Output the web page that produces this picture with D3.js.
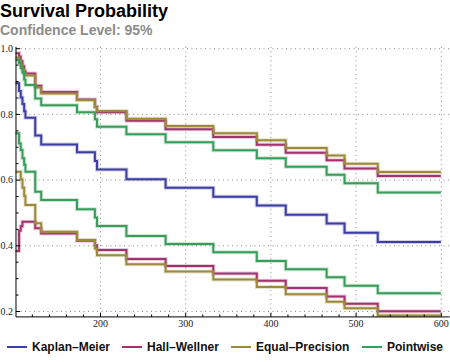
<!DOCTYPE html>
<html>
<head>
<meta charset="utf-8">
<script src="https://cdn.jsdelivr.net/npm/d3@7/dist/d3.min.js"></script>
<style>
body { margin: 0; background: #fff; }
.title { font-family: "Liberation Sans", Arial, sans-serif; font-weight: bold; }
.tick text { font-family: "Liberation Serif", "Times New Roman", serif; font-size: 10px; fill: #222; }
.legend text { font-family: "Liberation Sans", Arial, sans-serif; font-weight: bold; font-size: 12px; fill: #111; }
</style>
</head>
<body>
<svg id="chart" width="450" height="362"></svg>
<script>
// step start times (the last step runs until tEnd)
var times = [101, 105, 107, 109, 111, 112.5, 124, 131, 173, 194, 196.5, 231, 277, 333, 384, 418, 466, 487, 526];
var tEnd = 600;

var kaplanMeier = [0.893, 0.870, 0.850, 0.830, 0.808, 0.788, 0.734, 0.707, 0.683, 0.657, 0.631, 0.601, 0.575, 0.548, 0.521, 0.493, 0.466, 0.438, 0.410];
var hallWellnerUpper = [0.985, 0.975, 0.960, 0.945, 0.930, 0.923, 0.886, 0.867, 0.844, 0.822, 0.805, 0.779, 0.753, 0.730, 0.706, 0.682, 0.659, 0.634, 0.611];
var hallWellnerLower = [0.383, 0.444, 0.458, 0.472, 0.472, 0.472, 0.452, 0.436, 0.414, 0.400, 0.386, 0.358, 0.337, 0.314, 0.292, 0.270, 0.244, 0.222, 0.199];
var equalPrecisionUpper = [0.972, 0.962, 0.950, 0.935, 0.922, 0.917, 0.880, 0.862, 0.842, 0.820, 0.809, 0.785, 0.763, 0.741, 0.720, 0.696, 0.673, 0.648, 0.623];
var equalPrecisionLower = [0.624, 0.624, 0.600, 0.575, 0.550, 0.523, 0.467, 0.441, 0.416, 0.390, 0.370, 0.342, 0.320, 0.296, 0.273, 0.251, 0.228, 0.208, 0.186];
var pointwiseUpper = [0.964, 0.955, 0.940, 0.925, 0.905, 0.888, 0.847, 0.826, 0.805, 0.784, 0.761, 0.738, 0.714, 0.689, 0.665, 0.639, 0.615, 0.589, 0.561];
var pointwiseLower = [0.741, 0.710, 0.690, 0.665, 0.645, 0.624, 0.563, 0.538, 0.510, 0.485, 0.459, 0.428, 0.404, 0.379, 0.352, 0.327, 0.303, 0.277, 0.254];

var seriesNames = ['Kaplan\u2013Meier', 'Hall\u2013Wellner', 'Equal\u2013Precision', 'Pointwise'];
var seriesColors = ['#3d3da3', '#a0336e', '#9c8a3a', '#3a9c5a'];

var xTicks = [200, 300, 400, 500, 600];
var yTicks = [0.2, 0.4, 0.6, 0.8, 1.0];

var svg = d3.select('#chart');

svg.append('text').attr('class', 'title')
	.attr('x', 0).attr('y', 17)
	.style('font-size', '18px')
	.text('Survival Probability');
svg.append('text').attr('class', 'title')
	.attr('x', 0).attr('y', 35)
	.style('font-size', '14px')
	.attr('fill', '#8c8c8c')
	.text('Confidence Level: 95%');

var x = d3.scaleLinear().domain([100, 600]).range([14.8, 440.8]);
var y = d3.scaleLinear().domain([0.2, 1.0]).range([311, 48.2]);
var xMin = 101.4, xMax = 610.5;
var yMin = 0.182, yMax = 1.004;

// dotted grid
var grid = svg.append('g').attr('stroke', '#8a8a8a').attr('stroke-width', 1)
	.attr('stroke-dasharray', '1,3.5');
grid.selectAll('.gx').data(xTicks).enter().append('line')
	.attr('x1', function(d) { return x(d) + 0.5; })
	.attr('x2', function(d) { return x(d) + 0.5; })
	.attr('y1', y(yMax)).attr('y2', y(yMin));
grid.selectAll('.gy').data(yTicks).enter().append('line')
	.attr('x1', x(xMin)).attr('x2', x(xMax))
	.attr('y1', function(d) { return y(d) + 0.5; })
	.attr('y2', function(d) { return y(d) + 0.5; });

// step curves
var line = d3.line()
	.x(function(d) { return x(d[0]); })
	.y(function(d) { return y(d[1]); })
	.curve(d3.curveStepAfter);

function steps(vals)
{
	var pts = times.map(function(t, i) { return [t, vals[i]]; });
	pts.push([tEnd, vals[vals.length - 1]]);
	return pts;
}

var curves = [
	[kaplanMeier, 0],
	[hallWellnerUpper, 1], [hallWellnerLower, 1],
	[equalPrecisionUpper, 2], [equalPrecisionLower, 2],
	[pointwiseUpper, 3], [pointwiseLower, 3]
];

var plot = svg.append('g').attr('fill', 'none');
curves.forEach(function(c)
{
	var col = seriesColors[c[1]];
	plot.append('path').attr('d', line(steps(c[0])))
		.attr('stroke', col).attr('stroke-opacity', 0.25).attr('stroke-width', 4);
	plot.append('path').attr('d', line(steps(c[0])))
		.attr('stroke', col).attr('stroke-width', 2);
});

// axes
var yAxis = d3.axisLeft(y).tickValues(yTicks).tickSize(-4).tickPadding(3)
	.tickFormat(d3.format('.1f'));
var yMinor = d3.axisLeft(y).tickValues(d3.range(0.2, 1.0, 0.05).filter(function(v)
	{ return Math.abs(v * 5 - Math.round(v * 5)) > 0.01; }))
	.tickSize(-2.5).tickFormat('');
var xAxis = d3.axisBottom(x).tickValues(xTicks).tickSize(-4).tickPadding(3);
var xMinor = d3.axisBottom(x).tickValues(d3.range(120, 600, 20).filter(function(v)
	{ return v % 100 != 0; }))
	.tickSize(-2.5).tickFormat('');

var ax = x(xMin), ay = y(yMin);
[yAxis, yMinor].forEach(function(a)
{
	var g = svg.append('g').attr('transform', 'translate(' + ax + ',0)').call(a);
	g.select('.domain').remove();
});
[xAxis, xMinor].forEach(function(a)
{
	var g = svg.append('g').attr('transform', 'translate(0,' + ay + ')').call(a);
	g.select('.domain').remove();
});
svg.selectAll('.tick line').attr('stroke', '#000');
svg.selectAll('.tick text').attr('fill', '#222');

svg.append('line').attr('x1', ax).attr('x2', ax)
	.attr('y1', y(yMax)).attr('y2', ay).attr('stroke', '#000');
svg.append('line').attr('x1', ax).attr('x2', x(xMax))
	.attr('y1', ay).attr('y2', ay).attr('stroke', '#000');

// legend
var legendX = [7, 122, 231, 362];
var legend = svg.append('g').attr('class', 'legend');
seriesNames.forEach(function(name, i)
{
	legend.append('line')
		.attr('x1', legendX[i]).attr('x2', legendX[i] + 20)
		.attr('y1', 347).attr('y2', 347)
		.attr('stroke', seriesColors[i]).attr('stroke-width', 2);
	legend.append('text')
		.attr('x', legendX[i] + 25).attr('y', 351)
		.text(name);
});
</script>
</body>
</html>
